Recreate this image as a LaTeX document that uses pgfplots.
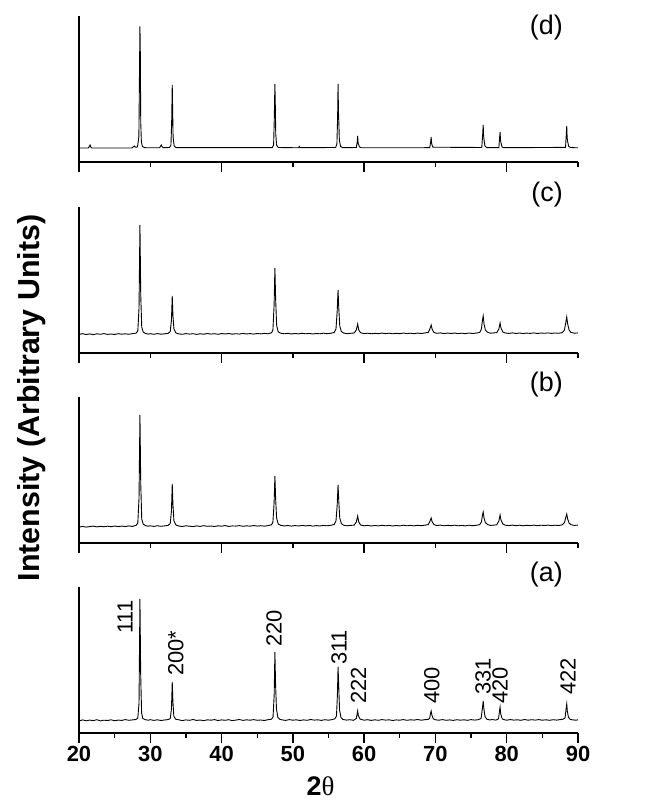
\documentclass[border=0pt]{standalone}
\usepackage{fontspec}
\setmainfont{Liberation Sans}
\newfontfamily\thetafont{Liberation Serif}
\usepackage{pgfplots}
\pgfplotsset{compat=1.18}

\pgfplotsset{
  xrd/.style={
    width=499bp, height=146bp, scale only axis,
    xmin=20, xmax=90, ymin=0, ymax=146,
    axis lines*=left, ytick=\empty,
    tick align=outside,
    major tick length=10bp, minor tick length=5bp,
    axis line style={line width=1.4bp},
    every tick/.style={line width=1.4bp, black},
    anchor=south west,
  },
  upper/.style={xtick={20,40,60,80}, minor xtick={30,50,70,90}, xticklabels={}},
  trace/.style={black, line width=0.9bp},
}

\begin{document}
\begin{tikzpicture}

% (d)
\begin{axis}[xrd, upper, at={(79bp,641bp)}]
\addplot[trace] coordinates {
(20.0,14) (21.3,14) (21.45,15.5) (21.55,17) (21.65,15) (21.8,14) (27.4,14) (27.6,15) (27.75,16) (27.9,14.8)
(28.2,15) (28.4,25) (28.5,100) (28.55,135.7) (28.6,110) (28.66,40) (28.75,20) (28.9,15.5) (29.2,14.3)
(31.3,14.2) (31.45,16) (31.55,17) (31.65,15.2) (31.85,14.3) (32.7,14.5) (32.9,17) (33.0,40) (33.08,77)
(33.13,55) (33.2,25) (33.35,16) (33.6,14.3) (47.1,14.3) (47.3,17) (47.4,45) (47.48,78) (47.53,60)
(47.6,28) (47.72,17) (47.95,14.5) (50.8,14.2) (50.9,15.5) (51.0,14.3) (56.0,14.5) (56.18,18) (56.28,45)
(56.34,78) (56.4,50) (56.46,38) (56.52,22) (56.7,15.5) (57.0,14.3) (58.9,14.5) (59.03,20) (59.09,26)
(59.16,18.5) (59.25,17) (59.35,15) (59.6,14.2) (69.2,14.3) (69.33,20) (69.4,25) (69.46,19) (69.52,17)
(69.65,14.8) (76.5,14.5) (76.63,28) (76.7,37) (76.76,26) (76.84,21) (76.95,16) (77.2,14.4) (78.9,14.4)
(79.0,24) (79.07,30) (79.13,22) (79.2,19) (79.35,15) (79.6,14.3) (88.25,14.6) (88.36,28) (88.42,36)
(88.48,24) (88.56,20) (88.7,15.5) (89.0,14.4) (90.0,14.2)
};
\end{axis}

% (c)
\begin{axis}[xrd, upper, at={(79bp,450bp)}]
\addplot[trace] coordinates {
(20.0,18.6) (20.5,19.3) (21.0,18.5) (21.5,19.1) (22.0,18.4) (22.5,19.2) (23.0,18.7) (23.5,19.4) (24.0,18.6)
(24.5,19.0) (25.0,18.5) (25.5,19.3) (26.0,18.8) (26.5,19.2) (27.0,18.7) (27.5,19.4) (28.0,19.8) (28.25,22)
(28.42,45) (28.55,128) (28.66,58) (28.8,26) (29.0,21) (29.3,19.6) (29.7,18.9) (30.0,19.3) (30.5,18.7)
(31.0,19.4) (31.5,18.8) (32.0,19.2) (32.5,19.6) (32.8,21.5) (32.97,33) (33.08,57) (33.18,37) (33.32,24)
(33.6,20) (34.0,19.1) (34.5,18.7) (35.0,19.4) (35.5,18.9) (36.0,19.3) (36.5,18.6) (37.0,19.2) (37.5,18.8)
(38.0,19.5) (38.5,18.9) (39.0,19.3) (39.5,18.7) (40.0,19.4) (40.5,19.0) (41.0,19.5) (41.5,18.8) (42.0,19.3)
(42.5,18.9) (43.0,19.6) (43.5,19.0) (44.0,19.4) (44.5,18.9) (45.0,19.5) (45.5,19.1) (46.0,19.6) (46.5,19.2)
(47.0,20.2) (47.2,23) (47.37,48) (47.48,85) (47.58,55) (47.72,28) (47.95,21) (48.3,19.8) (48.8,19.2)
(49.3,19.7) (49.8,19.0) (50.3,19.5) (50.8,19.1) (51.3,19.7) (51.8,19.2) (52.3,19.6) (52.8,19.0) (53.3,19.5)
(53.8,19.2) (54.3,19.8) (54.8,19.3) (55.3,19.7) (55.8,20.5) (56.05,24) (56.22,42) (56.34,63) (56.44,45)
(56.58,27) (56.8,21.5) (57.1,20) (57.6,19.3) (58.1,19.7) (58.6,20.0) (58.9,23) (59.09,29) (59.25,23)
(59.5,20.2) (60.0,19.4) (60.5,19.8) (61.0,19.2) (61.5,19.7) (62.0,19.3) (62.5,19.9) (63.0,19.4) (63.5,19.8)
(64.0,19.2) (64.5,19.7) (65.0,19.3) (65.5,20.0) (66.0,19.4) (66.5,19.8) (67.0,19.3) (67.5,19.9) (68.0,19.5)
(68.5,20.0) (69.0,20.6) (69.25,24.5) (69.4,28) (69.55,23.5) (69.8,20.5) (70.2,19.7) (70.7,20.1) (71.2,19.4)
(71.7,19.9) (72.2,19.5) (72.7,20.0) (73.2,19.4) (73.7,19.8) (74.2,19.3) (74.7,20.0) (75.2,19.5) (75.7,19.9)
(76.2,20.5) (76.45,24) (76.6,33) (76.7,37) (76.82,29) (77.0,23) (77.3,20.8) (77.7,19.8) (78.2,20.1)
(78.6,20.4) (78.9,24) (79.07,30) (79.2,25) (79.45,21) (79.8,20.0) (80.3,19.6) (80.8,20.1) (81.3,19.5)
(81.8,20.0) (82.3,19.4) (82.8,19.9) (83.3,19.6) (83.8,20.1) (84.3,19.5) (84.8,20.0) (85.3,19.7) (85.8,20.1)
(86.3,19.6) (86.8,20.0) (87.3,19.7) (87.8,20.4) (88.1,23) (88.3,31) (88.42,36) (88.55,29) (88.75,23)
(89.0,20.6) (89.5,19.8) (90.0,20.1)
};
\end{axis}

% (b)
\begin{axis}[xrd, upper, at={(79bp,260bp)}]
\addplot[trace] coordinates {
(20.0,15.8) (20.5,16.6) (21.0,15.9) (21.5,16.4) (22.0,16.9) (22.5,16.1) (23.0,16.7) (23.5,16.2) (24.0,16.8)
(24.5,16.3) (25.0,17.0) (25.5,16.4) (26.0,16.9) (26.5,16.5) (27.0,17.1) (27.5,16.6) (28.0,17.6) (28.25,20)
(28.42,45) (28.55,128) (28.66,60) (28.8,24) (29.0,19) (29.3,17.5) (29.7,16.8) (30.0,17.2) (30.5,16.6)
(31.0,17.3) (31.5,16.7) (32.0,17.1) (32.5,17.6) (32.8,19.5) (32.97,32) (33.08,59) (33.18,38) (33.32,22)
(33.6,18) (34.0,17.0) (34.5,16.5) (35.0,17.2) (35.5,16.8) (36.0,16.4) (36.5,17.1) (37.0,16.6) (37.5,17.3)
(38.0,16.7) (38.5,17.0) (39.0,16.5) (39.5,17.2) (40.0,16.8) (40.5,17.4) (41.0,16.6) (41.5,17.1) (42.0,16.9)
(42.5,17.4) (43.0,16.7) (43.5,17.2) (44.0,16.8) (44.5,17.5) (45.0,16.9) (45.5,17.3) (46.0,16.8) (46.5,17.4)
(47.0,18.2) (47.2,21) (47.37,40) (47.48,67) (47.58,45) (47.72,25) (47.95,19) (48.3,17.6) (48.8,17.0)
(49.3,17.5) (49.8,16.9) (50.3,17.4) (50.8,17.0) (51.3,17.6) (51.8,17.1) (52.3,17.5) (52.8,16.9) (53.3,17.4)
(53.8,17.0) (54.3,17.6) (54.8,17.2) (55.3,17.7) (55.8,18.5) (56.05,22) (56.22,38) (56.34,58) (56.44,42)
(56.58,25) (56.8,19.5) (57.1,17.8) (57.6,17.2) (58.1,17.6) (58.6,17.9) (58.9,21) (59.09,27) (59.25,21)
(59.5,18) (60.0,17.2) (60.5,17.6) (61.0,17.0) (61.5,17.5) (62.0,17.1) (62.5,17.7) (63.0,17.2) (63.5,17.6)
(64.0,17.0) (64.5,17.5) (65.0,17.1) (65.5,17.8) (66.0,17.2) (66.5,17.6) (67.0,17.1) (67.5,17.7) (68.0,17.3)
(68.5,17.8) (69.0,18.4) (69.25,22) (69.4,25) (69.55,21) (69.8,18.3) (70.2,17.5) (70.7,17.9) (71.2,17.2)
(71.7,17.7) (72.2,17.3) (72.7,17.8) (73.2,17.2) (73.7,17.6) (74.2,17.1) (74.7,17.8) (75.2,17.3) (75.7,17.7)
(76.2,18.3) (76.45,21) (76.6,28) (76.7,31) (76.82,25) (77.0,20.5) (77.3,18.5) (77.7,17.6) (78.2,17.9)
(78.6,18.2) (78.9,22) (79.07,28) (79.2,23) (79.45,19) (79.8,17.8) (80.3,17.4) (80.8,17.9) (81.3,17.3)
(81.8,17.8) (82.3,17.2) (82.8,17.7) (83.3,17.4) (83.8,17.9) (84.3,17.3) (84.8,17.8) (85.3,17.5) (85.8,17.9)
(86.3,17.4) (86.8,17.8) (87.3,17.5) (87.8,18.2) (88.1,20.5) (88.3,26) (88.42,29) (88.55,24) (88.75,20)
(89.0,18.3) (89.5,17.6) (90.0,17.9)
};
\end{axis}

% (a)
\begin{axis}[xrd, at={(79bp,70bp)},
  xtick={20,30,...,90}, minor x tick num=1,
  /pgf/number format/assume math mode=true,
  xticklabel style={font=\fontsize{22}{22}\selectfont\bfseries},
  xlabel={\textbf{2}{\thetafont θ}},
  xlabel style={font=\fontsize{27}{27}\selectfont, xshift=-8bp, yshift=-8bp},
]
\addplot[trace] coordinates {
(20.0,12.0) (20.5,13.1) (21.0,12.2) (21.5,12.9) (22.0,12.4) (22.5,13.3) (23.0,12.1) (23.5,12.8) (24.0,12.5)
(24.5,13.2) (25.0,12.3) (25.5,12.9) (26.0,12.6) (26.5,13.4) (27.0,12.7) (27.5,13.1) (28.0,13.5) (28.25,15)
(28.42,30) (28.55,134) (28.65,60) (28.78,20) (28.95,14.5) (29.3,13.3) (29.7,12.8) (30.0,13.3) (30.5,12.6)
(31.0,13.2) (31.5,12.5) (32.0,13.0) (32.5,13.4) (32.8,14.5) (32.97,24) (33.08,51) (33.17,32) (33.3,17)
(33.55,13.8) (34.0,13.2) (34.5,12.4) (35.0,13.1) (35.5,12.7) (36.0,13.5) (36.5,12.6) (37.0,13.0) (37.5,12.3)
(38.0,13.2) (38.5,12.8) (39.0,13.4) (39.5,12.5) (40.0,13.1) (40.5,12.7) (41.0,13.3) (41.5,12.4) (42.0,12.9)
(42.5,13.5) (43.0,12.6) (43.5,13.2) (44.0,12.8) (44.5,13.4) (45.0,12.7) (45.5,13.0) (46.0,12.5) (46.5,13.3)
(47.0,13.8) (47.22,16) (47.38,38) (47.48,81) (47.57,50) (47.7,24) (47.9,15.5) (48.2,13.6) (48.6,13.0)
(49.0,12.6) (49.5,13.4) (50.0,12.8) (50.5,13.2) (51.0,12.5) (51.5,13.1) (52.0,12.7) (52.5,13.5) (53.0,12.9)
(53.5,13.2) (54.0,12.6) (54.5,13.3) (55.0,12.8) (55.5,13.4) (55.9,14.2) (56.12,17) (56.25,38) (56.34,66)
(56.43,48) (56.55,23) (56.75,15.5) (57.0,13.6) (57.5,12.9) (58.0,13.3) (58.5,12.7) (58.9,14.5) (59.02,19)
(59.09,22) (59.2,17) (59.45,13.8) (60.0,12.8) (60.5,13.3) (61.0,12.6) (61.5,13.2) (62.0,12.7) (62.5,13.4)
(63.0,12.9) (63.5,13.2) (64.0,12.5) (64.5,13.1) (65.0,12.8) (65.5,13.4) (66.0,12.7) (66.5,13.2) (67.0,12.9)
(67.5,13.5) (68.0,12.8) (68.5,13.3) (69.0,13.6) (69.2,15) (69.32,20) (69.4,22) (69.5,18) (69.7,14.2)
(70.0,13.2) (70.5,12.8) (71.0,13.4) (71.5,12.7) (72.0,13.1) (72.5,12.6) (73.0,13.3) (73.5,12.8) (74.0,13.2)
(74.5,12.7) (75.0,13.4) (75.5,12.9) (76.0,13.3) (76.4,14.5) (76.58,24) (76.7,32) (76.8,24) (76.95,16.5)
(77.2,13.8) (77.6,13.1) (78.0,13.4) (78.5,12.9) (78.85,14.2) (78.98,22) (79.07,26) (79.16,19) (79.38,14)
(79.7,13.2) (80.0,12.8) (80.5,13.4) (81.0,12.9) (81.5,13.2) (82.0,12.7) (82.5,13.5) (83.0,12.8) (83.5,13.3)
(84.0,12.9) (84.5,13.4) (85.0,12.8) (85.5,13.2) (86.0,12.7) (86.5,13.3) (87.0,12.9) (87.5,13.4) (87.9,13.8)
(88.18,15) (88.33,24) (88.42,29) (88.5,22) (88.65,16) (88.9,13.6) (89.3,13.1) (89.7,12.8) (90.0,13.2)
};
\begin{scope}[every node/.style={rotate=90, anchor=west, inner sep=0pt, font=\fontsize{22}{22}\selectfont}]
\node at (axis cs:26.45,99) {111};
\node at (axis cs:33.6,57) {200*};
\node at (axis cs:47.35,86) {220};
\node at (axis cs:56.5,68) {311};
\node at (axis cs:59.2,29) {222};
\node at (axis cs:69.5,29) {400};
\node at (axis cs:76.7,38) {331};
\node at (axis cs:79.06,29) {420};
\node at (axis cs:88.6,38) {422};
\end{scope}
\end{axis}

% panel letters and shared y label
\begin{scope}[every node/.style={anchor=east, inner sep=0pt, font=\fontsize{27}{27}\selectfont}]
\node at (563bp,775bp) {(d)};
\node at (563bp,608bp) {(c)};
\node at (563bp,418bp) {(b)};
\node at (563bp,228bp) {(a)};
\end{scope}
\node[rotate=90, inner sep=0pt, font=\fontsize{30.5}{30.5}\selectfont\bfseries] at (32bp,405bp) {Intensity (Arbitrary Units)};

\pgfresetboundingbox
\useasboundingbox (0,0) rectangle (645bp,803bp);
\end{tikzpicture}
\end{document}
